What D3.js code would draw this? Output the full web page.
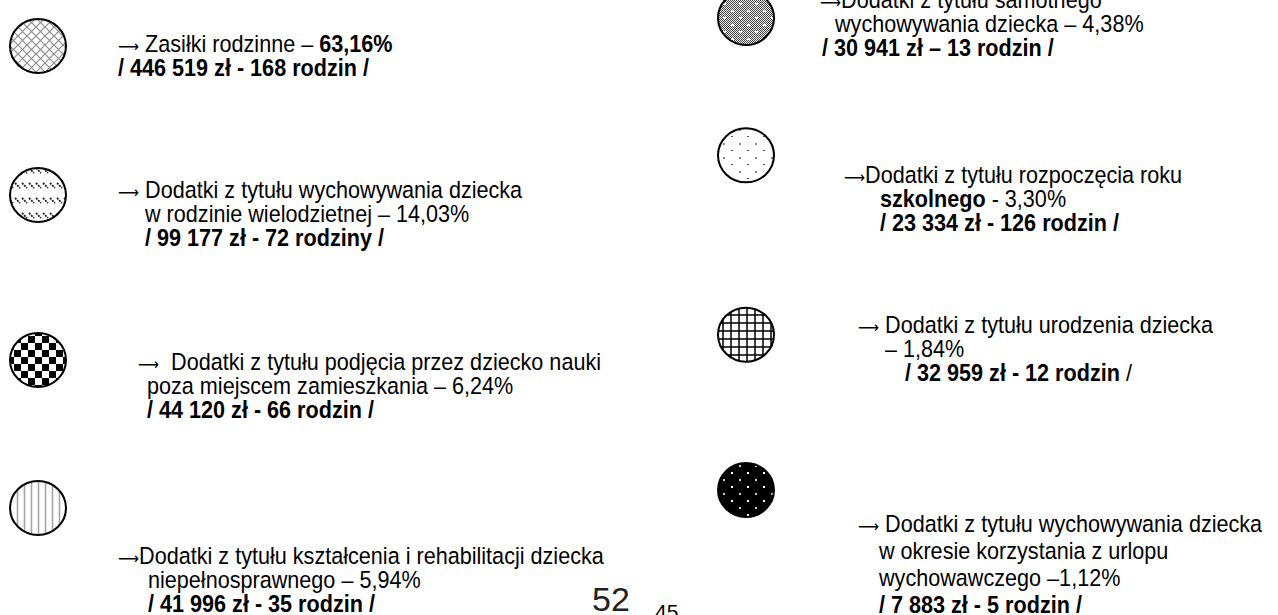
<!DOCTYPE html>
<html>
<head>
<meta charset="utf-8">
<script src="https://cdn.jsdelivr.net/npm/d3@7"></script>
<style>
  body { margin: 0; background: #fff; }
  svg { display: block; }
  text { font-family: "Liberation Sans", Arial, sans-serif; font-size: 23.5px; fill: #000; }
  tspan.arr { font-family: "DejaVu Sans", sans-serif; font-size: 16px; }
</style>
</head>
<body>
<div class="container"></div>
<script>
var width = 1278,
    height = 615;

// ---------- DATA ----------
var categories = [
  "Zasiłki rodzinne",
  "Dodatki z tytułu wychowywania dziecka w rodzinie wielodzietnej",
  "Dodatki z tytułu podjęcia przez dziecko nauki poza miejscem zamieszkania",
  "Dodatki z tytułu kształcenia i rehabilitacji dziecka niepełnosprawnego",
  "Dodatki z tytułu samotnego wychowywania dziecka",
  "Dodatki z tytułu rozpoczęcia roku szkolnego",
  "Dodatki z tytułu urodzenia dziecka",
  "Dodatki z tytułu wychowywania dziecka w okresie korzystania z urlopu wychowawczego"
];
var shares = [63.16, 14.03, 6.24, 5.94, 4.38, 3.30, 1.84, 1.12];
var amounts = [446519, 99177, 44120, 41996, 30941, 23334, 32959, 7883];
var families = [168, 72, 66, 35, 13, 126, 12, 5];
var patterns = ["cross", "dashes", "checker", "vlines", "dense", "sparse", "grid", "blackdots"];
var pageNumbers = ["52", "45"];

// ---------- LAYOUT (line breaks, indents, nudges) ----------
// how many words of the category go on each text line
var breaks = [[2], [5, 3], [7, 3], [7, 1], [4, 2], [5, 1], [5, 0], [5, 5, 1]];
var pctSep = [" – ", " – ", " – ", " – ", " – ", " - ", "– ", " –"];
var amtSep = [" - ", " - ", " - ", " - ", " – ", " - ", " - ", " - "];
var arrowSep = [" ", " ", "  ", "", "", "", " ", " "];
var narrow = 0.92; // the source uses a condensed face
// x of each text line relative to the circle centre
var lineX = [[80, 80], [80, 107, 107], [100, 109, 109], [80, 110, 110],
             [74, 89, 76], [98, 134, 134], [112, 139, 159], [112, 133, 133, 133]];
var firstDy = [6, 3, 10, 56, -10, 28, -2, 42];
var lineGap = [24, 24, 24, 24, 24, 24, 24, 27];
var rowNudge = [0, -5, 6, 0, 0, -20, 2, 0];

var locale = d3.formatLocale({decimal: ",", thousands: "\u00a0", grouping: [3], currency: ["", " zł"]});
var fmtPct = locale.format(".2f"),
    fmtAmt = locale.format(",d");

function familyWord(n) {
  var a = n % 10, b = n % 100;
  return (a >= 2 && a <= 4 && (b < 12 || b > 14)) ? "rodziny" : "rodzin";
}

var svg = d3.select(".container").append("svg")
    .attr("width", width)
    .attr("height", height);

// ---------- PATTERNS ----------
var defs = svg.append("defs");
function pat(id, w, h) {
  return defs.append("pattern").attr("id", id)
    .attr("patternUnits", "userSpaceOnUse")
    .attr("width", w).attr("height", h);
}
var p;
p = pat("cross", 9, 9);
p.append("path").attr("d", "M0,0L9,9M9,0L0,9").attr("stroke", "#8c8c8c").attr("stroke-width", 1.2);

p = pat("dashes", 7, 15);
p.append("path").attr("d", "M1,3L6,8").attr("stroke", "#222").attr("stroke-width", 1.8).attr("stroke-dasharray", "2 1");

p = pat("checker", 14, 14);
p.append("rect").attr("width", 7).attr("height", 7).attr("fill", "#000");
p.append("rect").attr("x", 7).attr("y", 7).attr("width", 7).attr("height", 7).attr("fill", "#000");

p = pat("vlines", 7, 7);
p.append("path").attr("d", "M3.5,0V7").attr("stroke", "#a5a5a5").attr("stroke-width", 1.6);

// fine 1px checker that reads as grey, under the white dots
p = pat("fine", 2, 2);
p.append("rect").attr("width", 2).attr("height", 2).attr("fill", "#eee");
p.append("rect").attr("width", 1).attr("height", 1).attr("fill", "#444");
p.append("rect").attr("x", 1).attr("y", 1).attr("width", 1).attr("height", 1).attr("fill", "#444");

p = pat("dense", 16, 14);
p.append("rect").attr("width", 16).attr("height", 14).attr("fill", "url(#fine)");
p.append("rect").attr("x", 3).attr("y", 3).attr("width", 3).attr("height", 2).attr("fill", "#fff");
p.append("rect").attr("x", 11).attr("y", 10).attr("width", 3).attr("height", 2).attr("fill", "#fff");

p = pat("sparse", 16, 14);
p.append("rect").attr("x", 3).attr("y", 3).attr("width", 2).attr("height", 2).attr("fill", "#888");
p.append("rect").attr("x", 11).attr("y", 10).attr("width", 2).attr("height", 1).attr("fill", "#555");

p = pat("grid", 8, 8);
p.append("path").attr("d", "M3,0V8M0,3H8").attr("stroke", "#000").attr("stroke-width", 1.5);

p = pat("blackdots", 16, 14);
p.append("rect").attr("width", 16).attr("height", 14).attr("fill", "#000");
p.append("rect").attr("x", 3).attr("y", 3).attr("width", 2).attr("height", 2).attr("fill", "#ccc");
p.append("rect").attr("x", 11).attr("y", 10).attr("width", 2).attr("height", 2).attr("fill", "#fff");

// ---------- SCALES ----------
var col = d3.scalePoint().domain([0, 1]).range([38, 746]);
var rowLeft = d3.scalePoint().domain(d3.range(4)).range([46, 508]);
var rowRight = d3.scalePoint().domain(d3.range(4)).range([18, 490]);

var items = categories.map(function(c, i) {
  var c2 = i < 4 ? 0 : 1;
  return {
    i: i,
    cx: col(c2),
    cy: (c2 === 0 ? rowLeft(i) : rowRight(i - 4)) + rowNudge[i]
  };
});

// ---------- CIRCLES ----------
svg.selectAll(".dot")
  .data(items)
  .enter().append("ellipse")
    .attr("class", "dot")
    .attr("cx", function(d) { return d.cx; })
    .attr("cy", function(d) { return d.cy; })
    .attr("rx", 28)
    .attr("ry", 27)
    .attr("fill", function(d) { return "url(#" + patterns[d.i] + ")"; })
    .attr("stroke", "#000")
    .attr("stroke-width", 2);

// ---------- LABELS ----------
function buildLines(i) {
  var words = categories[i].split(" "), k = 0;
  var lines = breaks[i].map(function(n) {
    var t = words.slice(k, k + n).join(" ");
    k += n;
    return t === "" ? [] : [{t: t, b: i === 5 && n === 1}];
  });
  lines[0].unshift({t: "\u27f6", b: false, arr: true}, {t: arrowSep[i], b: false});
  // percentage goes at the end of the last label line
  var last = lines[lines.length - 1];
  if (i === 0) {
    last.push({t: pctSep[i], b: false}, {t: fmtPct(shares[i]) + "%", b: true});
  } else {
    last.push({t: pctSep[i] + fmtPct(shares[i]) + "%", b: false});
  }
  var amt = "/ " + fmtAmt(amounts[i]) + " zł" + amtSep[i] + families[i] + " " + familyWord(families[i]);
  if (i === 6) lines.push([{t: amt, b: true}, {t: " /", b: false}]);
  else lines.push([{t: amt + " /", b: true}]);
  return lines;
}

items.forEach(function(d) {
  var lines = buildLines(d.i);
  var g = svg.append("g").attr("class", "label");
  lines.forEach(function(parts, j) {
    var t = g.append("text")
      .attr("transform", "translate(" + (d.cx + lineX[d.i][j]) + "," +
            (d.cy + firstDy[d.i] + j * lineGap[d.i]) + ") scale(" + narrow + ",1)")
      .style("white-space", "pre");
    t.selectAll("tspan")
      .data(parts)
      .enter().append("tspan")
        .attr("class", function(s) { return s.arr ? "arr" : null; })
        .style("font-weight", function(s) { return s.b ? "bold" : null; })
        .text(function(s) { return s.t; });
  });
});

// page numbers
svg.append("text")
  .attr("x", 592).attr("y", 611)
  .style("font-size", "34px")
  .style("fill", "#222")
  .text(pageNumbers[0]);
svg.append("text")
  .attr("x", 655).attr("y", 619)
  .style("font-size", "21px")
  .text(pageNumbers[1]);
</script>
</body>
</html>
